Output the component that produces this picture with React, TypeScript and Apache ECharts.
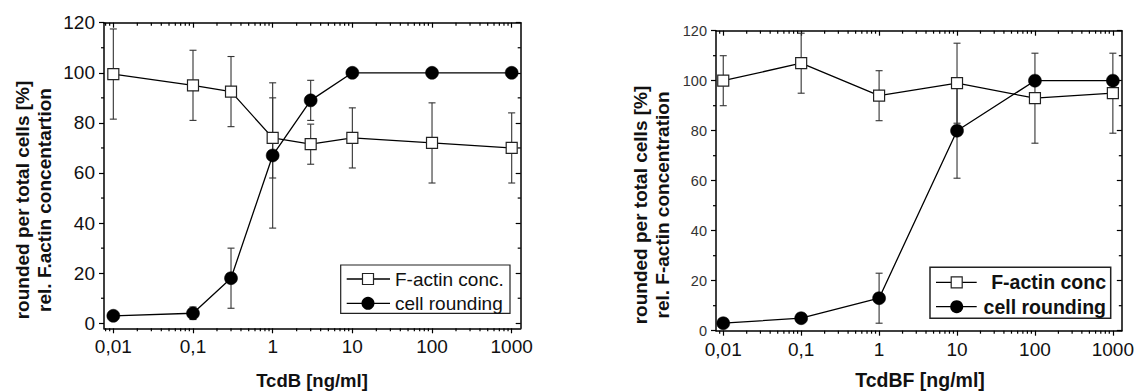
import React, { useEffect, useRef } from 'react';
import * as echarts from 'echarts';

// ---- Data ----
const dosesB = [0.01, 0.1, 0.3, 1, 3, 10, 100, 1000];
const actinB = [99.5, 95, 92.5, 74, 71.5, 74, 72, 70];
const actinBErr = [18, 14, 14, 16, 8, 12, 16, 14];
const roundB = [3, 4, 18, 67, 89, 100, 100, 100];
const roundBErr = [0, 2.5, 12, 29, 8, 0, 0, 0];

const dosesBF = [0.01, 0.1, 1, 10, 100, 1000];
const actinBF = [100, 107, 94, 99, 93, 95];
const actinBFErr = [10, 12, 10, 16, 18, 16];
const roundBF = [3, 5, 13, 80, 100, 100];
const roundBFErr = [0, 0, 10, 19, 0, 0];

const xTickValues = [0.01, 0.1, 1, 10, 100, 1000];
const xTickLabels = ['0,01', '0,1', '1', '10', '100', '1000'];
const yTickValues = [0, 20, 40, 60, 80, 100, 120];
const yMinorValues = [10, 30, 50, 70, 90, 110];

const FONT = '"Liberation Sans", Arial, Helvetica, sans-serif';

const majorLog = xTickValues.map((v) => Math.log10(v));
function minorLog(min: number, max: number) {
  const out: number[] = [];
  for (let d = -3; d <= 3; d++) {
    for (let k = 2; k <= 9; k++) {
      const v = Math.log10(k) + d;
      if (v > min && v < max) out.push(v);
    }
  }
  return out;
}

function fmtX(v: number) {
  const i = Math.round(v) + 2;
  return xTickLabels[i] ?? '';
}

function axesFor(g: number, xMin: number, xMax: number, yMin: number, yMax: number, yFont: number, xFont: number, yLabelColor: string) {
  const line = { color: '#000', width: 1.5 };
  const tickStyle = { color: '#000', width: 1.2 };
  const bx = { type: 'value', gridIndex: g, min: xMin, max: xMax, splitLine: { show: false } };
  const by = { type: 'value', gridIndex: g, min: yMin, max: yMax, splitLine: { show: false } };
  const xAxes = [
    {
      ...bx, position: 'bottom',
      axisLine: { show: true, onZero: false, lineStyle: line },
      axisTick: { show: true, customValues: majorLog, length: 5, lineStyle: tickStyle },
      axisLabel: { show: true, customValues: majorLog, formatter: fmtX, margin: 9, fontSize: xFont, color: '#111', fontFamily: FONT },
    },
    {
      ...bx, position: 'top',
      axisLine: { show: true, onZero: false, lineStyle: line },
      axisTick: { show: true, inside: true, customValues: majorLog, length: 5, lineStyle: tickStyle },
      axisLabel: { show: false },
    },
  ];
  const yAxes = [
    {
      ...by, position: 'left',
      axisLine: { show: true, onZero: false, lineStyle: line },
      axisTick: { show: true, customValues: yTickValues, length: 5, lineStyle: tickStyle },
      axisLabel: { show: true, customValues: yTickValues, margin: 9, fontSize: yFont, color: yLabelColor, fontFamily: FONT },
    },
    {
      ...by, position: 'right',
      axisLine: { show: true, onZero: false, lineStyle: line },
      axisTick: { show: true, inside: true, customValues: yTickValues, length: 5, lineStyle: tickStyle },
      axisLabel: { show: false },
    },
  ];
  return { xAxes, yAxes };
}

// Minor ticks (log decades on x, 10-unit steps on y), positioned through the axes' scales.
function minorTickSeries(axisIdx: number, xMin: number, xMax: number, yMin: number) {
  const xs = minorLog(xMin, xMax).map((v) => [v, yMin, 0]);
  const ys = yMinorValues.map((v) => [xMin, v, 1]);
  return {
    type: 'custom',
    xAxisIndex: axisIdx,
    yAxisIndex: axisIdx,
    data: [...xs, ...ys],
    encode: { x: 0, y: 1 },
    clip: false,
    silent: true,
    z: 6,
    renderItem: (params: any, api: any) => {
      const cs = params.coordSys;
      const p = api.coord([api.value(0), api.value(1)]);
      const style = { stroke: '#000', lineWidth: 1.2 };
      const len = 3;
      if (api.value(2) === 0) {
        const bottom = cs.y + cs.height;
        const top = cs.y;
        return {
          type: 'group',
          children: [
            { type: 'line', shape: { x1: p[0], y1: bottom, x2: p[0], y2: bottom + len }, style },
            { type: 'line', shape: { x1: p[0], y1: top, x2: p[0], y2: top + len }, style },
          ],
        };
      }
      const l = cs.x;
      const r = cs.x + cs.width;
      return {
        type: 'group',
        children: [
          { type: 'line', shape: { x1: l - len, y1: p[1], x2: l, y2: p[1] }, style },
          { type: 'line', shape: { x1: r - len, y1: p[1], x2: r, y2: p[1] }, style },
        ],
      };
    },
  };
}

function errorSeries(axisIdx: number, doses: number[], vals: number[], errs: number[]) {
  const data = doses
    .map((d, i) => [Math.log10(d), vals[i] - errs[i], vals[i] + errs[i]])
    .filter((_, i) => errs[i] > 0);
  return {
    type: 'custom',
    xAxisIndex: axisIdx,
    yAxisIndex: axisIdx,
    data,
    encode: { x: 0, y: [1, 2] },
    z: 1,
    silent: true,
    renderItem: (params: any, api: any) => {
      const x = api.value(0);
      const lo = api.coord([x, api.value(1)]);
      const hi = api.coord([x, api.value(2)]);
      const w = 3.5;
      const style = { stroke: '#333', lineWidth: 1.1 };
      return {
        type: 'group',
        children: [
          { type: 'line', shape: { x1: hi[0], y1: hi[1], x2: lo[0], y2: lo[1] }, style },
          { type: 'line', shape: { x1: hi[0] - w, y1: hi[1], x2: hi[0] + w, y2: hi[1] }, style },
          { type: 'line', shape: { x1: lo[0] - w, y1: lo[1], x2: lo[0] + w, y2: lo[1] }, style },
        ],
      };
    },
  };
}

function lineSeries(name: string, axisIdx: number, doses: number[], vals: number[], square: boolean, size: number) {
  return {
    type: 'line',
    name,
    xAxisIndex: axisIdx,
    yAxisIndex: axisIdx,
    data: doses.map((d, i) => [Math.log10(d), vals[i]]),
    symbol: square ? 'rect' : 'circle',
    symbolSize: size,
    showAllSymbol: true,
    itemStyle: square
      ? { color: '#fff', borderColor: '#222', borderWidth: 1.2 }
      : { color: '#000', borderColor: '#000', borderWidth: 0.5 },
    lineStyle: { color: '#000', width: 1.3 },
    z: square ? 3 : 4,
    silent: true,
  };
}

function legendGraphics(box: { x: number; y: number; w: number; h: number; lw: number }, lineX1: number, lineX2: number, markX: number, rows: number[], labels: string[], textX: number, align: string, bold: boolean, fontSize: number) {
  const els: any[] = [
    { type: 'rect', shape: { x: box.x, y: box.y, width: box.w, height: box.h }, style: { fill: '#fff', stroke: '#222', lineWidth: box.lw }, z: 10 },
  ];
  rows.forEach((ry, i) => {
    els.push({ type: 'line', shape: { x1: lineX1, y1: ry, x2: lineX2, y2: ry }, style: { stroke: '#000', lineWidth: 1.3 }, z: 11 });
    if (i === 0) {
      els.push({ type: 'rect', shape: { x: markX - 5.5, y: ry - 5.5, width: 11, height: 11 }, style: { fill: '#fff', stroke: '#222', lineWidth: 1.2 }, z: 12 });
    } else {
      els.push({ type: 'circle', shape: { cx: markX, cy: ry, r: 6.5 }, style: { fill: '#000' }, z: 12 });
    }
    els.push({
      type: 'text', x: textX, y: ry, z: 12,
      style: { text: labels[i], fontSize, fontWeight: bold ? 'bold' : 'normal', fontFamily: FONT, fill: '#111', align, verticalAlign: 'middle' },
    });
  });
  return els;
}

function rotText(text: string, x: number, y: number, fontSize: number) {
  return {
    type: 'text', x, y, rotation: Math.PI / 2,
    style: { text, fontSize, fontWeight: 'bold', fontFamily: FONT, fill: '#111', align: 'center', verticalAlign: 'middle' },
  };
}

function plainText(text: string, x: number, y: number, fontSize: number) {
  return {
    type: 'text', x, y,
    style: { text, fontSize, fontWeight: 'bold', fontFamily: FONT, fill: '#111', align: 'center', verticalAlign: 'middle' },
  };
}

export default function App() {
  const ref = useRef<HTMLDivElement>(null);
  useEffect(() => {
    if (!ref.current) return;
    const chart = echarts.init(ref.current, undefined, { renderer: 'svg' });
    const LX = [-2.117, 3.113];
    const RX = [-2.093, 3.115];
    const left = axesFor(0, LX[0], LX[1], -2, 120, 19, 19, '#111');
    const right = axesFor(1, RX[0], RX[1], 0, 120, 14.5, 19, '#333');
    const option: any = {
      animation: false,
      backgroundColor: '#fff',
      grid: [
        { left: 104, top: 22.7, width: 416.7, height: 305.6, containLabel: false },
        { left: 716, top: 30.7, width: 408, height: 300, containLabel: false },
      ],
      xAxis: [...left.xAxes, ...right.xAxes],
      yAxis: [...left.yAxes, ...right.yAxes],
      series: [
        minorTickSeries(0, LX[0], LX[1], -2),
        errorSeries(0, dosesB, actinB, actinBErr),
        errorSeries(0, dosesB, roundB, roundBErr),
        lineSeries('F-actin conc.', 0, dosesB, actinB, true, 11),
        lineSeries('cell rounding', 0, dosesB, roundB, false, 13),
        minorTickSeries(2, RX[0], RX[1], 0),
        errorSeries(2, dosesBF, actinBF, actinBFErr),
        errorSeries(2, dosesBF, roundBF, roundBFErr),
        lineSeries('F-actin conc', 2, dosesBF, actinBF, true, 11),
        lineSeries('cell rounding', 2, dosesBF, roundBF, false, 13),
      ],
      graphic: [
        ...legendGraphics({ x: 340.7, y: 265, w: 169.3, h: 48.3, lw: 1.2 }, 346.7, 390, 368, [279, 303.3], ['F-actin conc.', 'cell rounding'], 395, 'left', false, 19),
        ...legendGraphics({ x: 930, y: 267.3, w: 180.7, h: 51, lw: 1.5 }, 936, 976.7, 956.7, [282.3, 306.7], ['F-actin conc', 'cell rounding'], 1106, 'right', true, 19.5),
        plainText('TcdB [ng/ml]', 312, 380, 18.5),
        plainText('TcdBF [ng/ml]', 920, 380, 19.5),
        rotText('rounded per total cells [%]', 22, 200, 19),
        rotText('rel. F.actin concentartion', 44, 200, 19),
        rotText('rounded per total cells [%]', 640, 205, 19),
        rotText('rel. F-actin concentration', 662, 205, 19),
      ],
    };
    chart.setOption(option);
    return () => chart.dispose();
  }, []);
  return (
    <div
      ref={ref}
      style={{ position: 'absolute', left: 0, top: 0, width: 1137, height: 392, background: '#fff' }}
    />
  );
}
